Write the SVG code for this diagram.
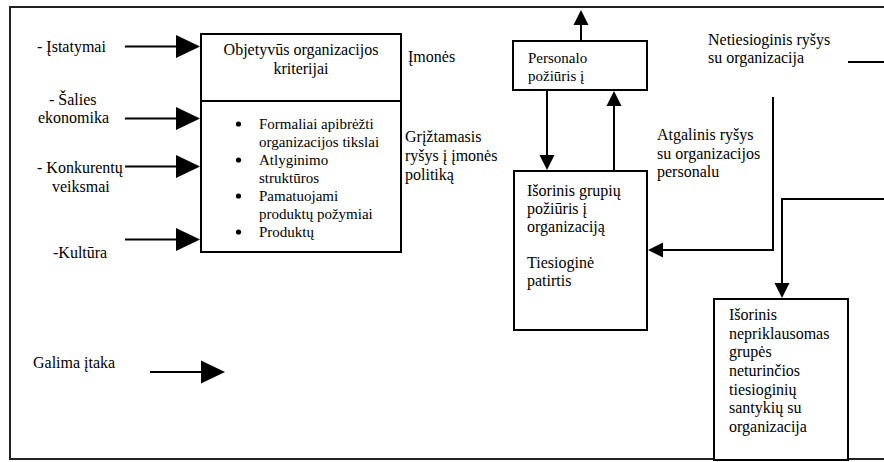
<svg xmlns="http://www.w3.org/2000/svg" width="884" height="462" viewBox="0 0 884 462">
  <style>
    .box { fill: #fff; stroke: #000; stroke-width: 2; }
    .frame { fill: none; stroke: #222; stroke-width: 2; }
    .conn { fill: none; stroke: #000; stroke-width: 2; }
    .big { marker-end: url(#bigHead); }
    .small { marker-end: url(#smallHead); }
  </style>
  <defs>
    <marker id="bigHead" markerUnits="userSpaceOnUse" markerWidth="24" markerHeight="24" refX="1" refY="11.5" orient="auto" overflow="visible">
      <path d="M0,0 L24,11.5 L0,23 Z" fill="#000"/>
    </marker>
    <marker id="smallHead" markerUnits="userSpaceOnUse" markerWidth="15" markerHeight="15" refX="1" refY="7.5" orient="auto" overflow="visible">
      <path d="M0,0 L15,7.5 L0,15 Z" fill="#000"/>
    </marker>
  </defs>

  <!-- page frame (open on the right) -->
  <rect class="frame" x="10" y="7" width="890" height="452"/>

  <!-- left influence labels -->
  <g id="labels-left">
    <text x="37" y="52" font-family="'Liberation Serif', serif" font-size="16">- Įstatymai</text>
    <text x="49" y="104.5" font-family="'Liberation Serif', serif" font-size="16">- Šalies</text>
    <text x="38" y="123" font-family="'Liberation Serif', serif" font-size="16">ekonomika</text>
    <text x="37" y="173" font-family="'Liberation Serif', serif" font-size="16">- Konkurentų</text>
    <text x="52" y="191.5" font-family="'Liberation Serif', serif" font-size="16">veiksmai</text>
    <text x="53" y="258" font-family="'Liberation Serif', serif" font-size="16">-Kultūra</text>
  </g>

  <!-- objective criteria box -->
  <g id="node-criteria">
    <rect class="box" x="201" y="34" width="200" height="218"/>
    <line x1="201" y1="101" x2="401" y2="101" stroke="#000" stroke-width="2"/>
    <text x="301" y="55" text-anchor="middle" font-family="'Liberation Serif', serif" font-size="16">Objetyvūs organizacijos</text>
    <text x="301" y="73.5" text-anchor="middle" font-family="'Liberation Serif', serif" font-size="16">kriterijai</text>
    <g fill="#000">
      <circle cx="238.5" cy="124" r="2.6"/>
      <circle cx="238.5" cy="160" r="2.6"/>
      <circle cx="238.5" cy="196" r="2.6"/>
      <circle cx="238.5" cy="232" r="2.6"/>
    </g>
    <text x="259" y="128.5" font-family="'Liberation Serif', serif" font-size="15">Formaliai apibrėžti</text>
    <text x="259" y="146.5" font-family="'Liberation Serif', serif" font-size="15">organizacijos tikslai</text>
    <text x="259" y="164.5" font-family="'Liberation Serif', serif" font-size="15">Atlyginimo</text>
    <text x="259" y="182.5" font-family="'Liberation Serif', serif" font-size="15">struktūros</text>
    <text x="259" y="200.5" font-family="'Liberation Serif', serif" font-size="15">Pamatuojami</text>
    <text x="259" y="218.5" font-family="'Liberation Serif', serif" font-size="15">produktų požymiai</text>
    <text x="259" y="236.5" font-family="'Liberation Serif', serif" font-size="15">Produktų</text>
  </g>

  <!-- free-standing labels -->
  <g id="label-imones">
    <text x="408" y="62" font-family="'Liberation Serif', serif" font-size="16">Įmonės</text>
  </g>
  <g id="label-feedback">
    <text x="405" y="142" font-family="'Liberation Serif', serif" font-size="16">Grįžtamasis</text>
    <text x="405" y="161" font-family="'Liberation Serif', serif" font-size="16">ryšys į įmonės</text>
    <text x="405" y="180" font-family="'Liberation Serif', serif" font-size="16">politiką</text>
  </g>
  <g id="label-indirect">
    <text x="708" y="45" font-family="'Liberation Serif', serif" font-size="16">Netiesioginis ryšys</text>
    <text x="708" y="63" font-family="'Liberation Serif', serif" font-size="16">su organizacija</text>
  </g>
  <g id="label-staff-feedback">
    <text x="657" y="140" font-family="'Liberation Serif', serif" font-size="16">Atgalinis ryšys</text>
    <text x="657" y="158.5" font-family="'Liberation Serif', serif" font-size="16">su organizacijos</text>
    <text x="657" y="177" font-family="'Liberation Serif', serif" font-size="16">personalu</text>
  </g>
  <g id="legend">
    <text x="33" y="368" font-family="'Liberation Serif', serif" font-size="16">Galima įtaka</text>
  </g>

  <!-- staff attitude box -->
  <g id="node-staff">
    <rect class="box" x="513" y="41" width="134" height="49"/>
    <text x="528" y="63" font-family="'Liberation Serif', serif" font-size="15">Personalo</text>
    <text x="528" y="81" font-family="'Liberation Serif', serif" font-size="15">požiūris į</text>
  </g>

  <!-- external groups box -->
  <g id="node-external">
    <rect class="box" x="514" y="171" width="133" height="159"/>
    <text x="527" y="195.5" font-family="'Liberation Serif', serif" font-size="16">Išorinis grupių</text>
    <text x="527" y="213.5" font-family="'Liberation Serif', serif" font-size="16">požiūris į</text>
    <text x="527" y="231.5" font-family="'Liberation Serif', serif" font-size="16">organizaciją</text>
    <text x="527" y="268" font-family="'Liberation Serif', serif" font-size="16">Tiesioginė</text>
    <text x="527" y="286" font-family="'Liberation Serif', serif" font-size="16">patirtis</text>
  </g>

  <!-- independent external groups box -->
  <g id="node-independent">
    <rect class="box" x="714" y="299" width="134" height="161"/>
    <text x="729" y="320" font-family="'Liberation Serif', serif" font-size="16">Išorinis</text>
    <text x="729" y="338.7" font-family="'Liberation Serif', serif" font-size="16">nepriklausomas</text>
    <text x="729" y="357.4" font-family="'Liberation Serif', serif" font-size="16">grupės</text>
    <text x="729" y="376" font-family="'Liberation Serif', serif" font-size="16">neturinčios</text>
    <text x="729" y="394.7" font-family="'Liberation Serif', serif" font-size="16">tiesioginių</text>
    <text x="729" y="413.4" font-family="'Liberation Serif', serif" font-size="16">santykių su</text>
    <text x="729" y="432" font-family="'Liberation Serif', serif" font-size="16">organizacija</text>
  </g>

  <!-- connectors -->
  <g id="connectors">
    <path class="conn big" d="M125,46.5 L177,46.5"/>
    <path class="conn big" d="M125,118.5 L177,118.5"/>
    <path class="conn big" d="M125,166.5 L177,166.5"/>
    <path class="conn big" d="M125,239.5 L177,239.5"/>
    <path class="conn big" d="M150,372 L202,372"/>
    <path class="conn small" d="M581,41 L581,24"/>
    <path class="conn small" d="M547,90 L547,156"/>
    <path class="conn small" d="M614,171 L614,105"/>
    <path class="conn small" d="M773,97 L773,250 L662,250"/>
    <path class="conn" d="M848,62 L884,62"/>
    <path class="conn small" d="M884,199 L782,199 L782,284"/>
  </g>
</svg>
